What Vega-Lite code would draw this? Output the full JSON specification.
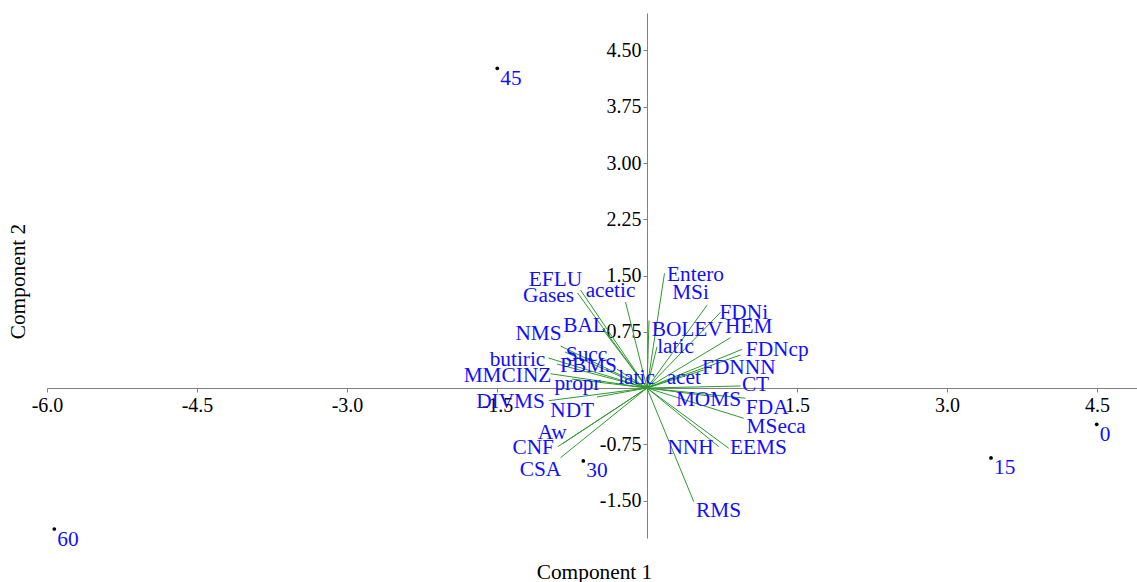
{
  "$schema": "https://vega.github.io/schema/vega-lite/v6.json",
  "width": 1090,
  "height": 525,
  "autosize": "none",
  "padding": {"left": 47, "top": 13, "right": 0, "bottom": 44},
  "background": "white",
  "config": {"view": {"stroke": null}, "font": "Liberation Serif"},
  "datasets": {
    "loadings": [
      {"v": "EFLU", "x": -0.665, "y": 1.307, "lx": -0.915, "ly": 1.44},
      {"v": "Gases", "x": -0.695, "y": 1.267, "lx": -0.985, "ly": 1.227},
      {"v": "acetic", "x": -0.215, "y": 1.147, "lx": -0.365, "ly": 1.293},
      {"v": "BAL", "x": -0.445, "y": 0.787, "lx": -0.625, "ly": 0.827},
      {"v": "NMS", "x": -0.865, "y": 0.56, "lx": -1.085, "ly": 0.72},
      {"v": "butiric", "x": -0.985, "y": 0.4, "lx": -1.295, "ly": 0.373},
      {"v": "Succ", "x": -0.82, "y": 0.48, "lx": -0.605, "ly": 0.44},
      {"v": "PBMS", "x": -0.9, "y": 0.32, "lx": -0.585, "ly": 0.293},
      {"v": "MMCINZ", "x": -0.965, "y": 0.19, "lx": -1.395, "ly": 0.16},
      {"v": "propr", "x": -0.75, "y": 0.12, "lx": -0.695, "ly": 0.05},
      {"v": "latic", "x": -0.3, "y": 0.25, "lx": -0.105, "ly": 0.133},
      {"v": "DIVMS", "x": -0.982, "y": -0.169, "lx": -1.365, "ly": -0.182},
      {"v": "NDT", "x": -0.5, "y": -0.12, "lx": -0.748, "ly": -0.302},
      {"v": "Aw", "x": -0.838, "y": -0.737, "lx": -0.948, "ly": -0.604},
      {"v": "CNF", "x": -0.892, "y": -0.782, "lx": -1.138, "ly": -0.804},
      {"v": "CSA", "x": -0.865, "y": -0.929, "lx": -1.065, "ly": -1.093},
      {"v": "Entero", "x": 0.175, "y": 1.529, "lx": 0.485, "ly": 1.507},
      {"v": "MSi", "x": 0.602, "y": 1.107, "lx": 0.435, "ly": 1.263},
      {"v": "FDNi", "x": 0.735, "y": 1.009, "lx": 0.968, "ly": 0.996},
      {"v": "BOLEV", "x": 0.02, "y": 0.9, "lx": 0.402, "ly": 0.773},
      {"v": "HEM", "x": 0.835, "y": 0.671, "lx": 1.018, "ly": 0.817},
      {"v": "latic", "x": 0.1, "y": 0.55, "lx": 0.285, "ly": 0.542},
      {"v": "FDNcp", "x": 0.952, "y": 0.516, "lx": 1.302, "ly": 0.507},
      {"v": "FDNNN", "x": 0.935, "y": 0.44, "lx": 0.918, "ly": 0.262},
      {"v": "acet", "x": 0.568, "y": 0.24, "lx": 0.368, "ly": 0.129},
      {"v": "CT", "x": 0.935, "y": 0.027, "lx": 1.085, "ly": 0.04},
      {"v": "MOMS", "x": 0.7, "y": -0.12, "lx": 0.615, "ly": -0.16},
      {"v": "FDA", "x": 0.985, "y": -0.137, "lx": 1.202, "ly": -0.271},
      {"v": "MSeca", "x": 0.968, "y": -0.404, "lx": 1.292, "ly": -0.516},
      {"v": "EEMS", "x": 0.818, "y": -0.804, "lx": 1.115, "ly": -0.8},
      {"v": "NNH", "x": 0.718, "y": -0.782, "lx": 0.435, "ly": -0.8},
      {"v": "RMS", "x": 0.468, "y": -1.516, "lx": 0.715, "ly": -1.64}
    ],
    "scores": [
      {"t": "0", "x": 4.497, "y": -0.484},
      {"t": "15", "x": 3.44, "y": -0.933},
      {"t": "30", "x": -0.637, "y": -0.973},
      {"t": "45", "x": -1.497, "y": 4.263},
      {"t": "60", "x": -5.927, "y": -1.88}
    ]
  },
  "layer": [
    {
      "data": {"name": "loadings"},
      "mark": {"type": "rule", "color": "#2e9a2e", "strokeWidth": 1},
      "encoding": {
        "x": {
          "field": "x", "type": "quantitative", "title": "Component 1",
          "scale": {"domain": [-6, 4.9], "nice": false, "zero": false},
          "axis": {
            "values": [-6, -4.5, -3, -1.5, 0, 1.5, 3, 4.5],
            "format": ".1f",
            "labelExpr": "datum.value == 0 ? '' : replace(datum.label, '\u2212', '-')",
            "offset": -150,
            "grid": false,
            "domainColor": "#808080",
            "tickColor": "#808080",
            "tickSize": 4,
            "labelFlush": false,
            "labelOverlap": false,
            "labelFont": "Liberation Serif",
            "labelFontSize": 20,
            "labelColor": "black",
            "labelPadding": 3,
            "titleFont": "Liberation Serif",
            "titleFontSize": 21.33,
            "titleFontWeight": "normal",
            "titleColor": "black",
            "titleX": 547,
            "titleY": 190,
            "titleBaseline": "alphabetic"
          }
        },
        "y": {
          "field": "y", "type": "quantitative", "title": "Component 2",
          "scale": {"domain": [-2, 5], "nice": false, "zero": false},
          "axis": {
            "values": [-1.5, -0.75, 0, 0.75, 1.5, 2.25, 3, 3.75, 4.5],
            "format": ".2f",
            "labelExpr": "datum.value == 0 ? '' : replace(datum.label, '\u2212', '-')",
            "offset": -600,
            "grid": false,
            "domainColor": "#808080",
            "tickColor": "#808080",
            "tickSize": 4,
            "labelFlush": false,
            "labelOverlap": false,
            "labelFont": "Liberation Serif",
            "labelFontSize": 20,
            "labelColor": "black",
            "labelPadding": 2,
            "titleFont": "Liberation Serif",
            "titleFontSize": 21.33,
            "titleFontWeight": "normal",
            "titleColor": "black",
            "titleX": -629,
            "titleY": 268,
            "titleBaseline": "middle"
          }
        },
        "x2": {"datum": 0},
        "y2": {"datum": 0}
      }
    },
    {
      "data": {"name": "loadings"},
      "mark": {"type": "text", "font": "Liberation Serif", "fontSize": 21.33, "color": "#1010ff", "align": "center", "baseline": "middle"},
      "encoding": {
        "x": {"field": "lx", "type": "quantitative", "title": "Component 1"},
        "y": {"field": "ly", "type": "quantitative", "title": "Component 2"},
        "text": {"field": "v"}
      }
    },
    {
      "data": {"name": "scores"},
      "mark": {"type": "circle", "size": 14, "color": "black", "opacity": 1},
      "encoding": {
        "x": {"field": "x", "type": "quantitative", "title": "Component 1"},
        "y": {"field": "y", "type": "quantitative", "title": "Component 2"}
      }
    },
    {
      "data": {"name": "scores"},
      "mark": {"type": "text", "font": "Liberation Serif", "fontSize": 21.33, "color": "#1010ff", "align": "left", "baseline": "alphabetic", "dx": 3, "dy": 16.5},
      "encoding": {
        "x": {"field": "x", "type": "quantitative", "title": "Component 1"},
        "y": {"field": "y", "type": "quantitative", "title": "Component 2"},
        "text": {"field": "t"}
      }
    }
  ]
}
